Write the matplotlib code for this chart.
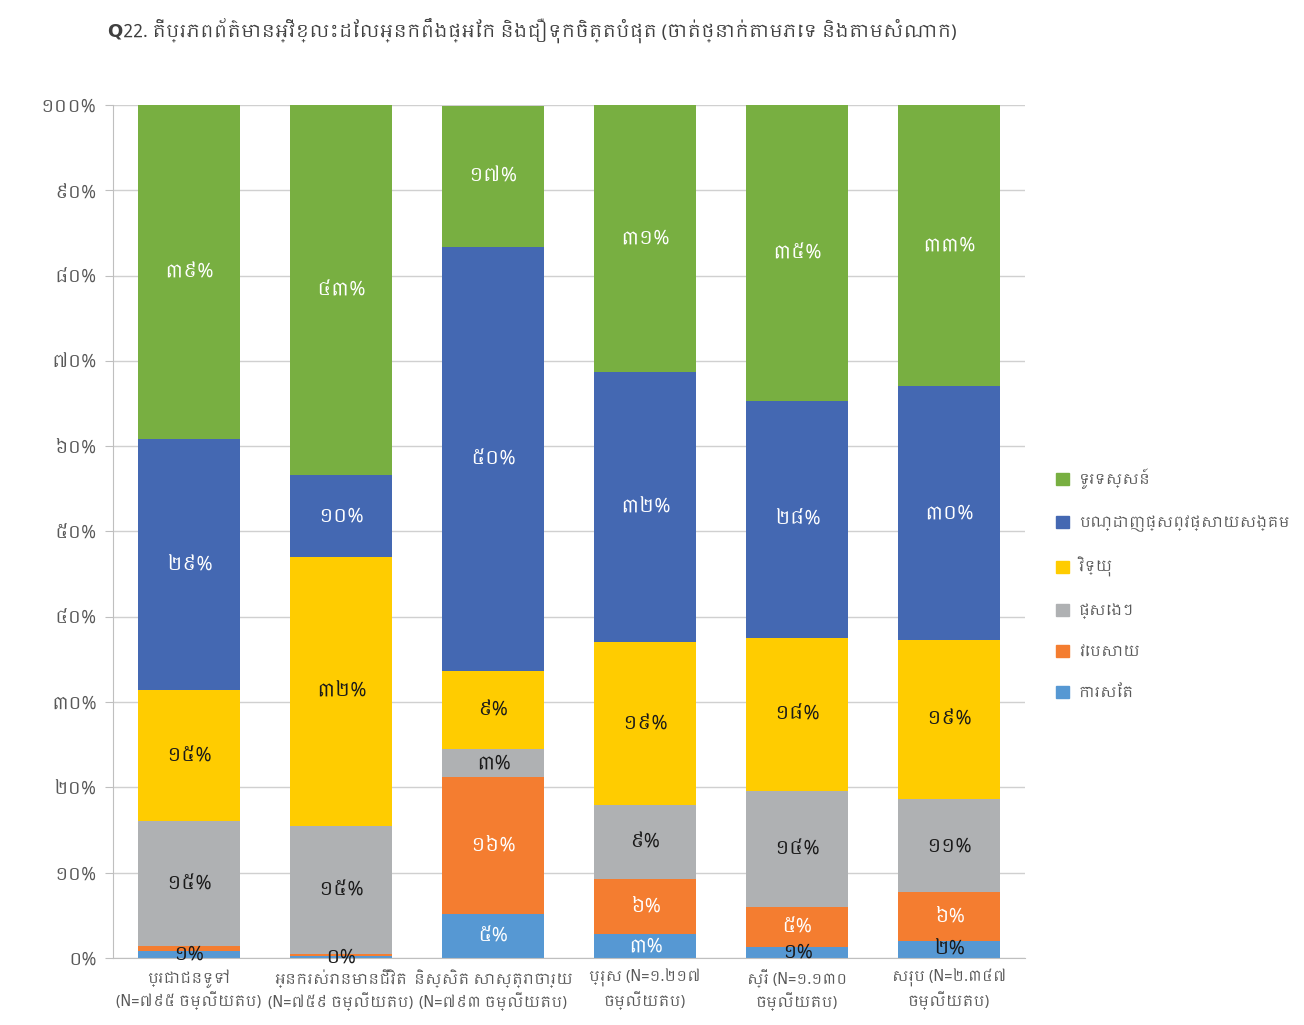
import matplotlib
matplotlib.use("Agg")
import matplotlib.pyplot as plt
from matplotlib import font_manager
from matplotlib.patches import Patch
import numpy as np

# data (percent)
groups = ["ប្រជាជនទូទៅ\n(N=៧៩៥ ចម្លើយតប)",
          "អ្នករស់រានមានជីវិត\n(N=៧៥៩ ចម្លើយតប)",
          "និស្សិត សាស្ត្រាចារ្យ\n(N=៧៩៣ ចម្លើយតប)",
          "ប្រុស (N=១.២១៧\nចម្លើយតប)",
          "ស្រី (N=១.១៣០\nចម្លើយតប)",
          "សរុប (N=២.៣៤៧\nចម្លើយតប)"]
newspaper = [0.8, 0.2, 5.2, 2.8, 1.3, 2.0]
website = [0.6, 0.3, 16.0, 6.5, 4.7, 5.7]
other = [14.6, 15.0, 3.3, 8.6, 13.6, 10.9]
radio = [15.4, 31.5, 9.1, 19.1, 17.9, 18.7]
social = [29.4, 9.6, 49.7, 31.7, 27.8, 29.8]
tv = [39.2, 43.4, 16.6, 31.3, 34.7, 32.9]

series_names = ["ការសែត", "វេបសាយ", "ផ្សេងៗ", "វិទ្យុ", "បណ្ដាញផ្សព្វផ្សាយសង្គម", "ទូរទស្សន៍"]
title = "Q22. តើប្រភពព័ត៌មានអ្វីខ្លះដែលអ្នកពឹងផ្អែក និងជឿទុកចិត្តបំផុត (ចាត់ថ្នាក់តាមភេទ និងតាមសំណាក)"

colors = ["#5698D3", "#F47D30", "#AFB1B3", "#FFCC00", "#4468B2", "#78AF41"]
label_colors = ["#1a1a1a", "white", "#1a1a1a", "#1a1a1a", "white", "white"]

KHMER = str.maketrans("0123456789", "០១២៣៤៥៦៧៨៩")


def khmer_num(v):
    return str(v).translate(KHMER)


def find_khmer_font():
    try:
        from fontTools.ttLib import TTFont
    except ImportError:
        return None
    for f in font_manager.fontManager.ttflist:
        if "Khmer" in f.name:
            return f.name
    for f in font_manager.fontManager.ttflist:
        try:
            tt = TTFont(f.fname, fontNumber=0, lazy=True)
            cmap = tt.getBestCmap()
            if cmap and 0x1780 in cmap and 0x17D2 in cmap:
                return f.name
        except Exception:
            continue
    return None


kfont = find_khmer_font()
families = ([kfont] if kfont else []) + ["DejaVu Sans"]
plt.rcParams["font.family"] = families

fig = plt.figure(figsize=(13.04, 10.25), dpi=100)
ax = fig.add_axes([0.0867, 0.0654, 0.6994, 0.8322])

data = [newspaper, website, other, radio, social, tv]
x = np.arange(len(groups))
bottom = np.zeros(len(groups))
for i, vals in enumerate(data):
    vals = np.array(vals)
    ax.bar(x, vals, 0.67, bottom=bottom, color=colors[i], zorder=2)
    for j, v in enumerate(vals):
        if i == 1 and v < 1:
            continue
        col = label_colors[i]
        if i == 0:
            col = "white" if v >= 2.5 else "#1a1a1a"
        ax.text(x[j], bottom[j] + v / 2, khmer_num(int(round(v))) + "%",
                ha="center", va="center", color=col, fontsize=14,
                fontweight="bold", zorder=3)
    bottom += vals

ax.set_xlim(-0.5, 5.5)
ax.set_ylim(0, 100)
yt = np.arange(0, 101, 10)
ax.set_yticks(yt)
ax.set_yticklabels([khmer_num(v) + "%" for v in yt], color="#595959", fontsize=13)
ax.set_xticks(x)
ax.set_xticklabels(groups, color="#595959", fontsize=10.5, linespacing=1.25)
ax.grid(axis="y", color="#D0D0D0", linewidth=1, zorder=0)
for s in ["top", "right"]:
    ax.spines[s].set_visible(False)
for s in ["left", "bottom"]:
    ax.spines[s].set_color("#BFBFBF")
ax.tick_params(axis="y", length=6, color="#BFBFBF", pad=6)
ax.tick_params(axis="x", length=0, pad=8)

handles = [Patch(color=colors[i]) for i in range(5, -1, -1)]
labels = [series_names[i] for i in range(5, -1, -1)]
fig.legend(handles, labels, loc="center left", bbox_to_anchor=(0.8, 0.43),
           frameon=False, fontsize=10.5, labelcolor="#595959",
           handlelength=0.85, handleheight=0.85, labelspacing=1.75, handletextpad=0.7)

fig.text(0.083, 0.97, title, fontsize=13, fontweight="bold", color="#404040",
         ha="left", va="center")

fig.savefig("out.png", dpi=100)
